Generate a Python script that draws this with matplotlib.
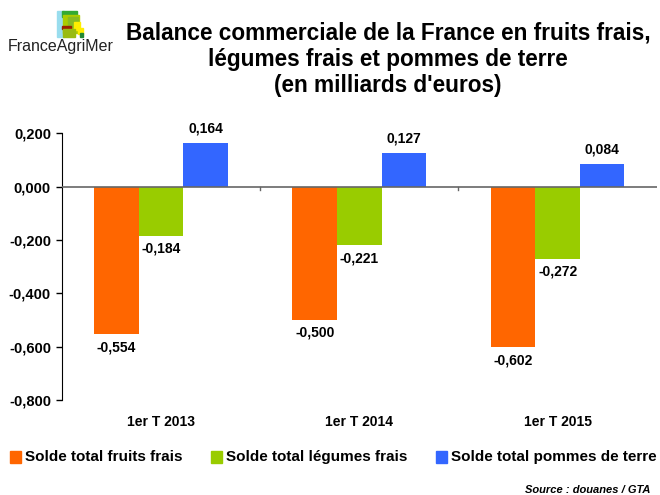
import numpy as np
import matplotlib
matplotlib.use('Agg')
import matplotlib.pyplot as plt
from matplotlib.patches import Rectangle

plt.rcParams['font.family'] = ['Liberation Sans', 'DejaVu Sans']

# --- data -------------------------------------------------------------
periods = ['1er T 2013', '1er T 2014', '1er T 2015']
fruits  = [-0.554, -0.500, -0.602]
legumes = [-0.184, -0.221, -0.272]
pommes  = [0.164, 0.127, 0.084]
series_names = ['Solde total fruits frais', 'Solde total légumes frais',
                'Solde total pommes de terre']
colors = ['#FF6600', '#99CC00', '#3366FF']
yticks = [0.2, 0.0, -0.2, -0.4, -0.6, -0.8]


def fr(v):
    return f'{v:.3f}'.replace('.', ',')


fig = plt.figure(figsize=(6.6, 4.95), dpi=100)
ax = fig.add_axes([0.094, 0.192, 0.901, 0.539])

x = np.arange(len(periods))
width = 0.225
for i, (vals, col) in enumerate(zip([fruits, legumes, pommes], colors)):
    pos = x + (i - 1) * width
    ax.bar(pos, vals, width=width, color=col, label=series_names[i], zorder=2)
    for px, v in zip(pos, vals):
        if v >= 0:
            ax.text(px, v + 0.027, fr(v), ha='center', va='bottom',
                    fontsize=10, fontweight='bold')
        else:
            ax.text(px, v - 0.022, fr(v), ha='center', va='top',
                    fontsize=10, fontweight='bold')

ax.set_xlim(-0.5, 2.5)
ax.set_ylim(-0.8, 0.2)
ax.set_yticks(yticks)
ax.set_yticklabels([fr(t) for t in yticks], fontsize=10.5, fontweight='bold')
ax.tick_params(axis='y', length=4, width=1, direction='out', pad=4)

# x axis drawn at zero, tick marks at category boundaries
ax.spines['top'].set_visible(False)
ax.spines['right'].set_visible(False)
ax.spines['bottom'].set_visible(False)
ax.axhline(0, color='#666666', lw=1.2, zorder=3)
for b in [0.5, 1.5]:
    ax.plot([b, b], [0, -0.012], color='#666666', lw=1, zorder=3)
ax.set_xticks([])
for xi, lab in zip(x, periods):
    ax.text(xi, -0.882, lab, ha='center', va='center', fontsize=10,
            fontweight='bold', clip_on=False)

# title
fig.text(0.588, 0.956, "Balance commerciale de la France en fruits frais,\n"
         "légumes frais et pommes de terre\n(en milliards d'euros)",
         ha='center', va='top', fontsize=16.3, fontweight='bold',
         linespacing=1.18)

# legend
leg_y = 1 - 457 / 495
for lx, col, name in zip([10, 211, 436], colors, series_names):
    fig.patches.append(Rectangle((lx / 660, leg_y - 0.012), 0.017, 0.024,
                                 transform=fig.transFigure, color=col))
    fig.text(lx / 660 + 0.022, leg_y, name, ha='left', va='center',
             fontsize=11, fontweight='bold')

fig.text(0.985, 1 - 490 / 495, 'Source : douanes / GTA', ha='right',
         va='center', fontsize=8, fontweight='bold', style='italic')

# logo (rough sketch)
logo = [(57, 11, 7, 26, '#99DDEE'), (62, 11, 15, 6, '#33AA33'),
        (63, 15, 16, 18, '#AACC00'), (68, 17, 10, 10, '#88BB22'),
        (62, 26, 9, 3, '#992200'), (74, 22, 6, 8, '#FFEE00'),
        (78, 28, 5, 6, '#FFEE00'), (63, 29, 12, 8, '#99BB11'),
        (80, 33, 3, 4, '#228833')]
for lx, ly, lw, lh, lc in logo:
    fig.patches.append(Rectangle((lx / 660, 1 - (ly + lh) / 495), lw / 660,
                                 lh / 495, transform=fig.transFigure,
                                 color=lc))
fig.text(0.012, 1 - 46 / 495, 'FranceAgriMer', ha='left', va='center',
         fontsize=11.5, color='#222222')

fig.savefig('out.png', dpi=100)
